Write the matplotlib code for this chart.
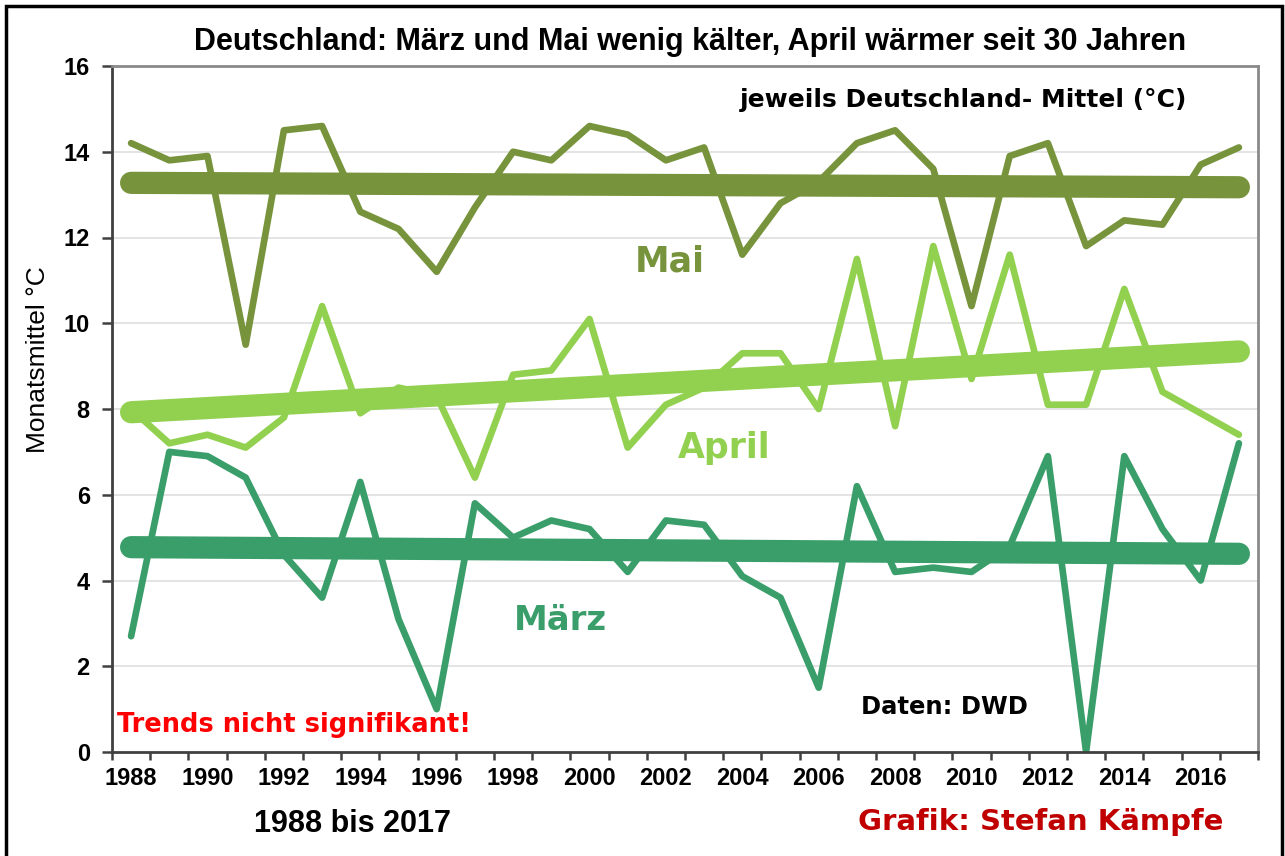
import numpy as np
import matplotlib
matplotlib.use("Agg")
import matplotlib.pyplot as plt
from matplotlib.patches import Rectangle

## Monatsmittel Deutschland 1988-2017
jahre = np.arange(1988, 2018)
mai = [14.2, 13.8, 13.9, 9.5, 14.5, 14.6, 12.6, 12.2, 11.2, 12.7,
       14.0, 13.8, 14.6, 14.4, 13.8, 14.1, 11.6, 12.8, 13.3, 14.2,
       14.5, 13.6, 10.4, 13.9, 14.2, 11.8, 12.4, 12.3, 13.7, 14.1]
april = [8.0, 7.2, 7.4, 7.1, 7.8, 10.4, 7.9, 8.5, 8.3, 6.4,
         8.8, 8.9, 10.1, 7.1, 8.1, 8.5, 9.3, 9.3, 8.0, 11.5,
         7.6, 11.8, 8.7, 11.6, 8.1, 8.1, 10.8, 8.4, 7.9, 7.4]
maerz = [2.7, 7.0, 6.9, 6.4, 4.6, 3.6, 6.3, 3.1, 1.0, 5.8,
         5.0, 5.4, 5.2, 4.2, 5.4, 5.3, 4.1, 3.6, 1.5, 6.2,
         4.2, 4.3, 4.2, 4.8, 6.9, 0.0, 6.9, 5.2, 4.0, 7.2]

farben = {"Mai": "#77933C", "April": "#92D050", "März": "#3A9E6A"}

fig = plt.figure(figsize=(12.85, 8.56), dpi=100)
ax = fig.add_axes([112/1285, 1 - 752/856, (1258-112)/1285, (752-66)/856])

# Gitter
for v in range(2, 16, 2):
    ax.axhline(v, color="#E2E2E2", lw=1.3, zorder=0)

for name, werte in [("Mai", mai), ("April", april), ("März", maerz)]:
    ax.plot(jahre, werte, color=farben[name], lw=4.8, solid_joinstyle="round",
            solid_capstyle="round", zorder=2)
    # linearer Trend
    k, d = np.polyfit(jahre, werte, 1)
    ax.plot(jahre[[0, -1]], k*jahre[[0, -1]] + d, color=farben[name], lw=16,
            solid_capstyle="round", zorder=3)

ax.set_xlim(1987.5, 2017.5)
ax.set_ylim(0, 16)
ax.set_xticks(np.arange(1988, 2018, 2))
ax.set_xticks(np.arange(1987.5, 2018, 1), minor=True)
ax.tick_params(axis="x", which="major", length=0, pad=11)
ax.tick_params(axis="x", which="minor", length=6, width=1.8, direction="out", color="#404040")
ax.set_yticks(np.arange(0, 17, 2))
ax.tick_params(axis="y", length=7, width=1.8, direction="out", color="#404040", pad=9)
for lab in ax.get_xticklabels() + ax.get_yticklabels():
    lab.set_fontfamily("Liberation Sans")
    lab.set_fontweight("bold")
    lab.set_fontsize(17)

for s in ["left", "bottom"]:
    ax.spines[s].set_color("#404040")
    ax.spines[s].set_linewidth(2)
for s in ["top", "right"]:
    ax.spines[s].set_color("#8A8A8A")
    ax.spines[s].set_linewidth(2)

fig.text(38/1285, 1 - 360/856, "Monatsmittel °C", fontfamily="Liberation Sans", fontsize=19,
         rotation=90, ha="center", va="center")

# Beschriftungen im Diagramm
bold = dict(fontfamily="DejaVu Sans", fontweight="bold", ha="center", va="center")
ax.text(2002.1, 11.43, "Mai", color=farben["Mai"], fontsize=25, **bold)
ax.text(2003.52, 7.1, "April", color=farben["April"], fontsize=25, **bold)
ax.text(1999.23, 3.06, "März", color=farben["März"], fontsize=24.5, **bold)
ax.text(2009.8, 15.2, "jeweils Deutschland- Mittel (°C)", color="black", fontsize=18, **bold)
ax.text(2009.28, 1.04, "Daten: DWD", color="black", fontsize=17.5, **bold)
ax.text(1992.26, 0.63, "Trends nicht signifikant!", color="#FF0000", fontsize=18.5, **bold)

fig.text(690/1285, 1 - 42/856, "Deutschland: März und Mai wenig kälter, April wärmer seit 30 Jahren",
         fontfamily="Liberation Sans", fontweight="bold", fontsize=22, ha="center", va="center")
fig.text(352/1285, 1 - 824/856, "1988 bis 2017", fontfamily="Liberation Sans", fontweight="bold",
         fontsize=22, ha="center", va="center")
fig.text(1041/1285, 1 - 822/856, "Grafik: Stefan Kämpfe", color="#C00000", fontsize=21, **bold)

# Rahmen um die Grafik
fig.patches.append(Rectangle((6/1285, -0.01), 1276/1285, 1 - 6/856 + 0.01, transform=fig.transFigure,
                             fill=False, edgecolor="black", lw=2.5))

fig.savefig("out.png", dpi=100)
